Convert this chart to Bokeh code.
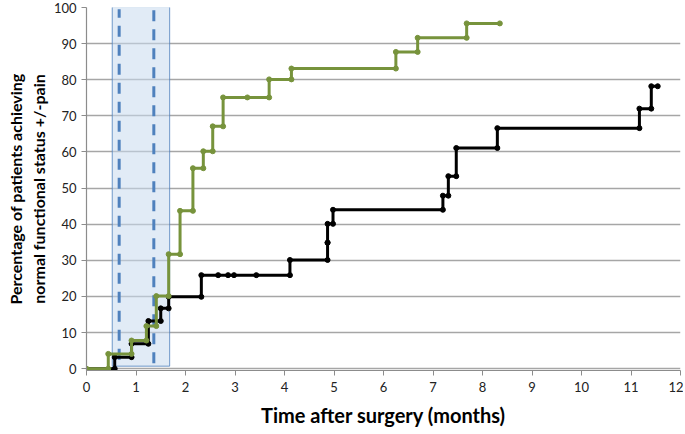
import numpy as np
from bokeh.plotting import figure
from bokeh.models import Range1d, FixedTicker
from bokeh.embed import file_html
from bokeh.resources import INLINE

# ---- data ----
green_times = [0, 0.44, 0.91, 1.21, 1.41, 1.66, 1.89, 2.15, 2.36, 2.55, 2.76, 3.69, 4.14, 6.25, 6.69, 7.68]
green_values = [0, 4.1, 7.8, 11.8, 20.1, 31.7, 43.7, 55.5, 60.2, 67.1, 75.1, 80.1, 83.1, 87.7, 91.6, 95.6]
green_end = 8.35
green_censored = [3.25]

black_times = [0, 0.57, 0.91, 1.25, 1.50, 1.66, 2.32, 4.11, 4.87, 4.87, 4.98, 7.20, 7.31, 7.47, 8.30, 11.17, 11.41]
black_values = [0, 3.2, 6.9, 13.2, 16.7, 19.9, 25.9, 30.1, 34.9, 40.1, 44.0, 47.9, 53.3, 61.1, 66.6, 72.0, 78.2]
black_end = 11.54
black_censored = [2.66, 2.86, 2.98, 3.43]

window_left = [0.52]
window_right = [1.68]
window_bottom = [0.7]
window_top = [100.2]
dashed_x = [0.66, 1.36]
dashed_y0 = [2.5, 1.5]
dashed_y1 = [99.5, 99.5]

x_ticks = list(range(0, 13))
y_ticks = list(range(0, 101, 10))


def step_path(t, v, t_end):
    xs, ys = [t[0]], [v[0]]
    for i in range(1, len(t)):
        xs += [t[i], t[i]]
        ys += [v[i - 1], v[i]]
    xs.append(t_end)
    ys.append(v[-1])
    return xs, ys


def level_at(t, v, c):
    idx = np.searchsorted(np.array(t), np.array(c), side="right") - 1
    return list(np.array(v)[idx])


GREEN = "#77933C"
BLUE = "#4F81BD"
FONT = "Lato"

p = figure(width=683, height=432, output_backend="svg", toolbar_location=None,
           x_range=Range1d(0, 12), y_range=Range1d(-0.5, 100),
           min_border_left=86, min_border_right=3, min_border_top=7, min_border_bottom=62)
p.outline_line_color = None
p.background_fill_color = "white"
p.border_fill_color = "white"

# grid
p.xgrid.grid_line_color = None
p.ygrid.grid_line_color = "#A6A6A6"
p.ygrid.grid_line_width = 1.4
p.ygrid.ticker = FixedTicker(ticks=y_ticks)

# axes
for ax in (p.xaxis[0], p.yaxis[0]):
    ax.axis_line_color = "#8C8C8C"
    ax.axis_line_width = 1.2
    ax.major_tick_line_color = "#8C8C8C"
    ax.major_tick_in = 0
    ax.major_tick_out = 5
    ax.minor_tick_line_color = None
    ax.major_label_text_font = FONT
    ax.major_label_text_font_size = "13px"
    ax.major_label_text_color = "#222222"
    ax.axis_label_text_font = FONT
    ax.axis_label_text_font_style = "bold"
    ax.axis_label_text_color = "black"

p.xaxis.ticker = FixedTicker(ticks=x_ticks)
p.yaxis.ticker = FixedTicker(ticks=y_ticks)
p.xaxis.axis_label = "Time after surgery (months)"
p.xaxis.axis_label_text_font_size = "20px"
p.xaxis.major_label_standoff = 6
p.xaxis.axis_label_standoff = 8
p.yaxis.axis_label = "Percentage of patients achieving\nnormal functional status +/-pain"
p.yaxis.axis_label_text_font_size = "16px"
p.yaxis.major_label_standoff = 5
p.yaxis.axis_label_standoff = 3

# shaded window
p.quad(left=window_left, right=window_right, bottom=window_bottom, top=window_top,
       fill_color="#C9DAEE", fill_alpha=0.55, line_color=BLUE, line_width=1, line_alpha=0.8)
p.segment(x0=dashed_x, x1=dashed_x, y0=dashed_y0, y1=dashed_y1,
          line_color=BLUE, line_width=3, line_dash="11 8")

# black curve
bx, by = step_path(black_times, black_values, black_end)
p.line(bx, by, line_color="black", line_width=3)
p.scatter(bx[1:], by[1:], size=5, color="black")
p.scatter(black_censored, level_at(black_times, black_values, black_censored), size=5, color="black")

# green curve
gx, gy = step_path(green_times, green_values, green_end)
p.line(gx, gy, line_color=GREEN, line_width=3)
p.scatter(gx, gy, size=5, color=GREEN)
p.scatter(green_censored, level_at(green_times, green_values, green_censored), size=5, color=GREEN)

open("out.html", "w").write(file_html(p, INLINE))
